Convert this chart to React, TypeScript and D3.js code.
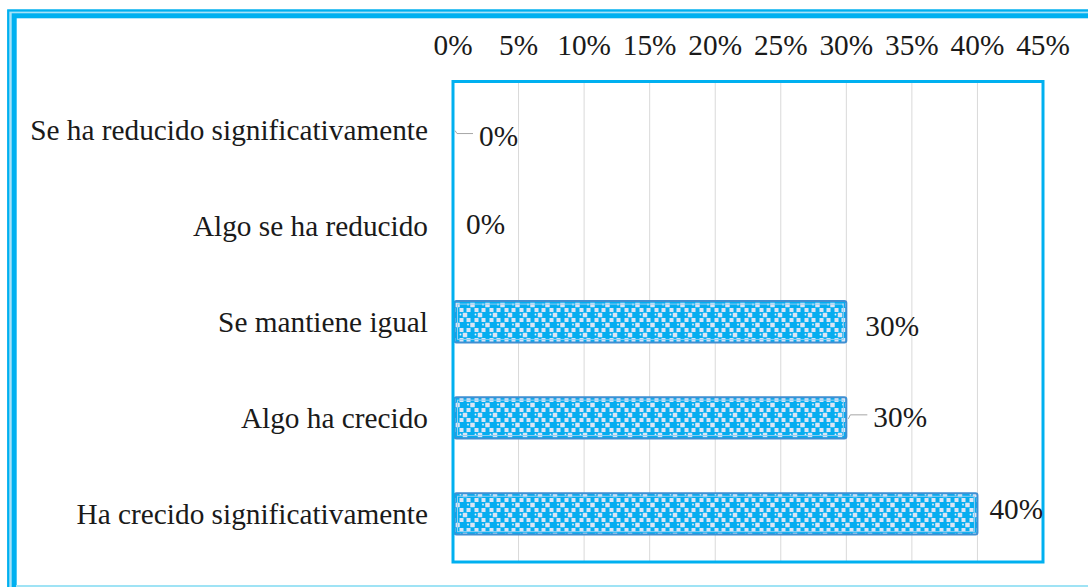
import * as d3 from "d3";

const categories = [
  "Se ha reducido significativamente",
  "Algo se ha reducido",
  "Se mantiene igual",
  "Algo ha crecido",
  "Ha crecido significativamente",
];
const values = [0, 0, 30, 30, 40];
const ticks = [0, 5, 10, 15, 20, 25, 30, 35, 40, 45];
// labels were moved by hand in the original chart: [dx from bar end, dy from row centre]
const labelNudge = [
  [26, 6],
  [13, -2],
  [19, 4],
  [27, -1],
  [12, -5],
];

const W = 1088;
const H = 587;
const FONT = "'Liberation Serif', 'Times New Roman', serif";
const FS = 29.3;

export default function App() {
  const plot = { left: 453, right: 1043, top: 81.5, bottom: 562 };
  const x = d3.scaleLinear().domain([0, 45]).range([plot.left, plot.right]);
  const y = d3.scaleBand().domain(categories).range([plot.top, plot.bottom]).paddingInner(0.57).paddingOuter(0.285);
  const band = y.bandwidth();

  return (
    <svg width={W} height={H} style={{ position: "fixed", left: 0, top: 0, background: "#fff" }}>
      <defs>
        <pattern id="dots" width="15" height="20" patternUnits="userSpaceOnUse" y={2}>
          <rect width="15" height="20" fill="#05adf0" />
          <rect x="5.25" y="0.75" width="4.5" height="4.5" fill="#dce5f4" />
          <rect x="-2.25" y="10.75" width="4.5" height="4.5" fill="#dce5f4" />
          <rect x="12.75" y="10.75" width="4.5" height="4.5" fill="#dce5f4" />
          <rect x="1.5" y="6" width="4" height="4" fill="#dce5f4" />
          <rect x="9.5" y="6" width="4" height="4" fill="#dce5f4" />
          <rect x="1.5" y="16" width="4" height="4" fill="#dce5f4" />
          <rect x="9.5" y="16" width="4" height="4" fill="#dce5f4" />
          <circle cx="3" cy="2.5" r="0.9" fill="#e6f3fc" />
          <circle cx="10.5" cy="12.5" r="0.9" fill="#e6f3fc" />
        </pattern>
      </defs>

      {/* outer frame */}
      <rect x={11.5} y={13} width={1120} height={620} fill="none" stroke="#a6e2f8" strokeWidth={8} />
      <rect x={8.2} y={10.5} width={1120} height={620} fill="none" stroke="#00b0f0" strokeWidth={2.2} />
      <rect x={14.2} y={15.8} width={1120} height={620} fill="none" stroke="#00b0f0" strokeWidth={5} />
      <line x1={16} x2={W} y1={586} y2={586} stroke="#9fe3f5" strokeWidth={2} />

      {/* gridlines */}
      <g stroke="#d9d9d9" strokeWidth={1}>
        {ticks.slice(1, -1).map((t) => (
          <line key={t} x1={x(t)} x2={x(t)} y1={plot.top} y2={plot.bottom} />
        ))}
      </g>

      {/* tick labels */}
      <g fontFamily={FONT} fontSize={FS} fill="#1a1a1a" textAnchor="middle">
        {ticks.map((t) => (
          <text key={t} x={x(t)} y={55}>
            {t}%
          </text>
        ))}
      </g>

      {/* bars */}
      {categories.map((c, i) => {
        const v = values[i];
        if (v <= 0) return null;
        const y0 = y(c)!;
        const x0 = x(0) + 1.5;
        const w = x(v) - x0;
        return (
          <g key={c}>
            <rect x={x0} y={y0} width={w} height={band} rx={2} fill="url(#dots)" stroke="#3f8fd2" strokeWidth={2} />
            <rect x={x0 + 3} y={y0 + 3} width={w - 6} height={band - 6} fill="none" stroke="#8fcdf2" strokeWidth={1} />
          </g>
        );
      })}

      {/* plot area border */}
      <rect
        x={plot.left}
        y={plot.top}
        width={plot.right - plot.left}
        height={plot.bottom - plot.top}
        fill="none"
        stroke="#00b0f0"
        strokeWidth={3}
      />

      {/* category labels */}
      <g fontFamily={FONT} fontSize={FS} fill="#1a1a1a" textAnchor="end">
        {categories.map((c) => (
          <text key={c} x={428} y={y(c)! + band / 2} dominantBaseline="central">
            {c}
          </text>
        ))}
      </g>

      {/* data labels */}
      <g fontFamily={FONT} fontSize={FS} fill="#1a1a1a">
        {categories.map((c, i) => {
          const [dx, dy] = labelNudge[i];
          const bx = x(values[i]);
          const cy = y(c)! + band / 2;
          const lx = bx + dx;
          const ly = cy + dy;
          return (
            <g key={c}>
              {dx > 20 && (
                <path d={`M${bx + 2},${cy + 1} L${bx + 4},${ly - 2} L${lx - 6},${ly - 2}`} fill="none" stroke="#a6a6a6" strokeWidth={1} />
              )}
              <text x={lx} y={ly} dominantBaseline="central">
                {values[i]}%
              </text>
            </g>
          );
        })}
      </g>
    </svg>
  );
}
